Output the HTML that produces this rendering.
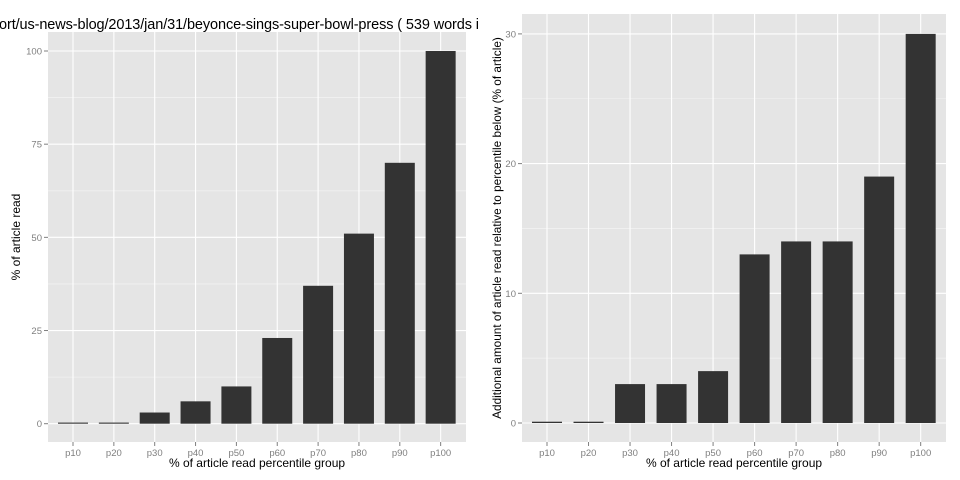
<!DOCTYPE html>
<html><head><meta charset="utf-8"><style>body{margin:0;background:#fff}svg{display:block;font-family:"Liberation Sans",Arial,sans-serif}</style></head>
<body>
<svg id="chart" width="960" height="480"><defs><clipPath id="tclip"><rect x="0" y="0" width="480" height="40"/></clipPath></defs></svg>
<script>
const categories=["p10","p20","p30","p40","p50","p60","p70","p80","p90","p100"];
const leftValues=[0.3,0.3,3,6,10,23,37,51,70,100];
const rightValues=[0.1,0.1,3,3,4,13,14,14,19,30];
const leftTicks=[0,25,50,75,100];
const rightTicks=[0,10,20,30];
const NS="http://www.w3.org/2000/svg";
const svg=document.getElementById('chart');
function mk(t,a,p){const e=document.createElementNS(NS,t);for(const k in a)e.setAttribute(k,a[k]);(p||svg).appendChild(e);return e;}
function panel(o){
  const g=mk('g',{});
  
  
  const bg=mk('rect',{x:o.x0,y:o.y0,width:o.x1-o.x0,height:o.y1-o.y0,fill:'#e5e5e5'},g);
  
  
  const ys=v=>o.zeroY-(v)*o.pxPer;
  const xs=i=>o.cx0+i*o.step;
  for(let i=0;i<o.ticks.length;i++){
    const d=o.ticks[1]-o.ticks[0];
    [o.ticks[i]-d/2,o.ticks[i]+d/2].forEach(v=>{const y=ys(v);if(y>o.y0&&y<o.y1)mk('line',{x1:o.x0,x2:o.x1,y1:y,y2:y,stroke:'#f2f2f2','stroke-width':0.6},g);});
  }
  o.ticks.forEach(v=>{const y=ys(v);
    mk('line',{x1:o.x0,x2:o.x1,y1:y,y2:y,stroke:'#fff','stroke-width':1.1},g);
    mk('line',{x1:o.x0-4,x2:o.x0,y1:y,y2:y,stroke:'#7f7f7f','stroke-width':1},g);
    const t=mk('text',{x:o.x0-6,y:y+3.5,'text-anchor':'end','font-size':9.5,fill:'#7f7f7f'},g);t.textContent=v;
    
    
  });
  categories.forEach((c,i)=>{const x=xs(i);
    mk('line',{x1:x,x2:x,y1:o.y0,y2:o.y1,stroke:'#fff','stroke-width':1.1},g);
    mk('line',{x1:x,x2:x,y1:o.y1,y2:o.y1+4,stroke:'#7f7f7f','stroke-width':1},g);
    const t=mk('text',{x:x,y:o.y1+14,'text-anchor':'middle','font-size':9.5,fill:'#7f7f7f'},g);t.textContent=c;
    
    
  });
  o.values.forEach((v,i)=>{const x=xs(i);const y=ys(v);
    const b=mk('rect',{x:x-o.bw/2,y:y,width:o.bw,height:o.zeroY-y,fill:'#333'},g);
    
    
  });
  const xt=mk('text',{x:(o.x0+o.x1)/2,y:o.y1+25,'text-anchor':'middle','font-size':12,fill:'#000'},g);
  xt.textContent='% of article read percentile group';
  
  
  const yt=mk('text',{x:0,y:0,'text-anchor':'middle','font-size':o.ytsize,fill:'#000',transform:`translate(${o.ytx},${(o.y0+o.y1)/2}) rotate(-90)`},g);
  yt.textContent=o.ytitle;
  
  
}
panel({name:'left-panel',x0:48,x1:466,y0:32,y1:442,zeroY:423.7,pxPer:3.727,cx0:73,step:40.85,bw:30,values:leftValues,ticks:leftTicks,ytitle:'% of article read',ytx:20,ytsize:12});
panel({name:'right-panel',x0:522,x1:946,y0:14,y1:442,zeroY:423,pxPer:12.97,cx0:547,step:41.52,bw:30,values:rightValues,ticks:rightTicks,ytitle:'Additional amount of article read relative to percentile below (% of article)',ytx:501,ytsize:11.8});
const tg=mk('g',{'clip-path':'url(#tclip)'});
const title=mk('text',{x:-1,y:29,'font-size':14.5,fill:'#000',textLength:480,lengthAdjust:'spacing'},tg);
title.textContent='ort/us-news-blog/2013/jan/31/beyonce-sings-super-bowl-press ( 539 words i';


</script>
</body></html>
